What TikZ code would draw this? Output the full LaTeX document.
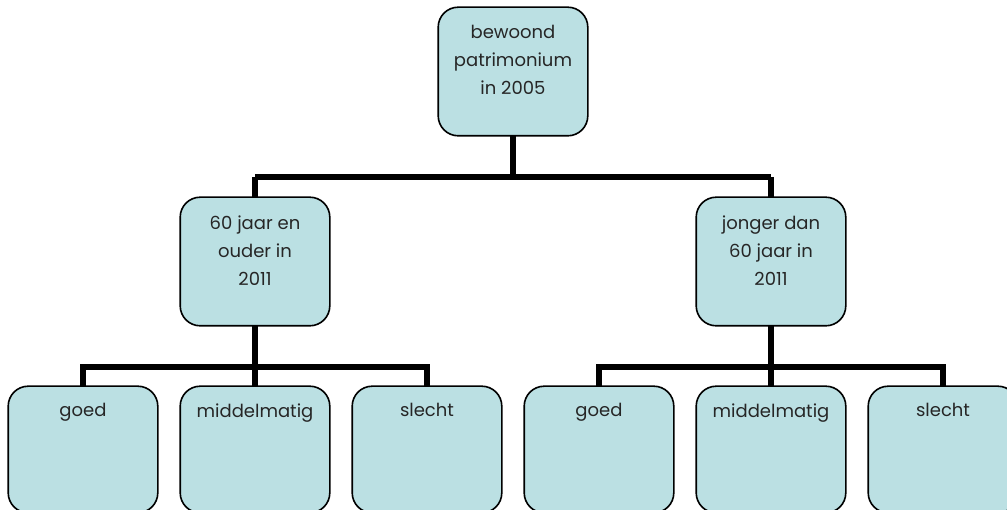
\documentclass[tikz,border=0pt]{standalone}
\usepackage{fontspec}
\setmainfont{Poppins}
\begin{document}
\begin{tikzpicture}[x=1pt,y=-1pt,
  box/.style={draw=black, line width=1.6pt, fill=boxfill, rounded corners=20pt,
    minimum width=148pt, minimum height=127pt, inner sep=0pt},
  txt/.style={anchor=north, align=center, font=\fontsize{18}{28}\selectfont, text=black!85, inner sep=0pt},
  conn/.style={line width=6pt, draw=black}]
\definecolor{boxfill}{HTML}{BBE0E3}
\useasboundingbox (0,0) rectangle (1007,510);
\coordinate (h1) at (513,177);
\node[box] (top) at (513,71.5) {};
\node[box] (m1) at (255,261.5) {};
\node[box] (m2) at (771,261.5) {};
\foreach \n/\x in {b1/83,b2/255,b3/427,b4/599,b5/771,b6/943}{
  \node[box, minimum height=125pt] (\n) at (\x,449.5) {};
}
\coordinate (ja) at (255,177);
\coordinate (jb) at (771,177);
\coordinate (jl) at (255,367);
\coordinate (jr) at (771,367);
\draw[conn] (top.south) -- (h1);
\draw[conn] (ja) -- (jb);
\draw[conn] (ja) -- (m1.north);
\draw[conn] (jb) -- (m2.north);
\draw[conn] (m1.south) -- (jl);
\draw[conn] (m2.south) -- (jr);
\draw[conn] (b1.north) |- (jl) -| (b3.north);
\draw[conn] (jl) -- (b2.north);
\draw[conn] (b4.north) |- (jr) -| (b6.north);
\draw[conn] (jr) -- (b5.north);
% redraw boxes over the connector ends
\foreach \n in {top,m1,m2,b1,b2,b3,b4,b5,b6}{
  \draw[line width=1.6pt, fill=boxfill, rounded corners=20pt] (\n.north west) rectangle (\n.south east);
}
\node[txt] (ttop) at ([yshift=-18pt]top.north) {bewoond\\patrimonium\\in 2005};
\node[txt] (tm1) at ([yshift=-18pt]m1.north) {60 jaar en\\ouder in\\2011};
\node[txt] (tm2) at ([yshift=-18pt]m2.north) {jonger dan\\60 jaar in\\2011};
\foreach \n/\t in {b1/goed,b2/middelmatig,b3/slecht,b4/goed,b5/middelmatig,b6/slecht}{
  \node[txt] (t\n) at ([yshift=-17pt]\n.north) {\t};
}
\end{tikzpicture}
\end{document}
